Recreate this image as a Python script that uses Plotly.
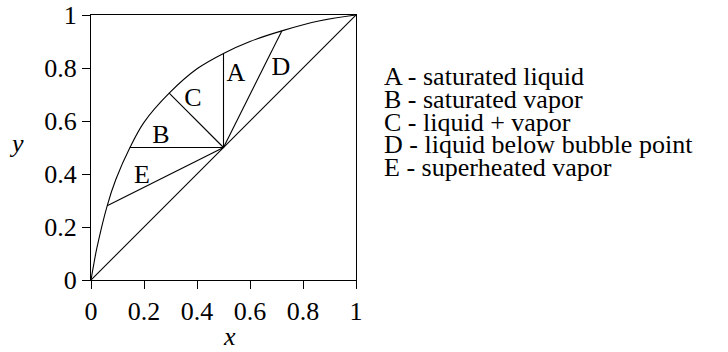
import plotly.graph_objects as go

# Equilibrium curve (x, y)
eq_x = [0.0, 0.01, 0.022, 0.061, 0.094, 0.147, 0.2, 0.295, 0.4, 0.5, 0.6, 0.72, 0.864, 1.0]
eq_y = [0.0, 0.057, 0.12, 0.28, 0.38, 0.5, 0.595, 0.705, 0.797, 0.855, 0.9, 0.94, 0.978, 1.0]

# Feed point and the q-line end points on the equilibrium curve
feed = (0.5, 0.5)
q_names = ["A", "B", "C", "D", "E"]
q_end_x = [0.5, 0.147, 0.295, 0.72, 0.061]
q_end_y = [0.855, 0.5, 0.705, 0.94, 0.28]

# Letter label positions inside the diagram
lab_x = [0.547, 0.264, 0.385, 0.717, 0.192]
lab_y = [0.774, 0.540, 0.683, 0.800, 0.392]

legend_lines = [
    "A - saturated liquid",
    "B - saturated vapor",
    "C - liquid + vapor",
    "D - liquid below bubble point",
    "E - superheated vapor",
]

tick_vals = [0, 0.2, 0.4, 0.6, 0.8, 1]
tick_text = ["0", "0.2", "0.4", "0.6", "0.8", "1"]

FONT = "Liberation Serif, Times New Roman, serif"
line = dict(color="black", width=1.1)

fig = go.Figure()
fig.add_trace(go.Scatter(x=eq_x, y=eq_y, mode="lines",
                         line=dict(color="black", width=1.1, shape="spline", smoothing=1.0),
                         cliponaxis=False, hoverinfo="skip"))
fig.add_trace(go.Scatter(x=[0, 1], y=[0, 1], mode="lines", line=line,
                         cliponaxis=False, hoverinfo="skip"))
for ex, ey in zip(q_end_x, q_end_y):
    fig.add_trace(go.Scatter(x=[feed[0], ex], y=[feed[1], ey], mode="lines",
                             line=line, cliponaxis=False, hoverinfo="skip"))

fig.add_trace(go.Scatter(x=lab_x, y=lab_y, mode="text", text=q_names,
                         textfont=dict(family=FONT, size=26, color="black"),
                         hoverinfo="skip"))

axis = dict(range=[0, 1], tickvals=tick_vals, ticktext=tick_text,
            ticks="outside", ticklen=8, tickwidth=1, tickcolor="black",
            showline=True, linecolor="black", linewidth=1, mirror=True,
            showgrid=False, zeroline=False, automargin=False,
            tickfont=dict(family=FONT, size=26, color="black"))

PLOT_L, PLOT_T, PLOT_W, PLOT_H = 91, 15, 265, 265

fig.update_layout(
    template="none",
    width=728, height=352,
    margin=dict(l=PLOT_L, r=728 - PLOT_L - PLOT_W, t=PLOT_T, b=352 - PLOT_T - PLOT_H, pad=0),
    plot_bgcolor="white", paper_bgcolor="white",
    font=dict(family=FONT, size=26, color="black"),
    showlegend=False,
    xaxis=axis, yaxis=axis,
)


def px_to_paper(px, py):
    return (px - PLOT_L) / PLOT_W, (PLOT_T + PLOT_H - py) / PLOT_H


annotations = []
ax_x, ax_y = px_to_paper(229, 336)
annotations.append(dict(text="<i>x</i>", x=ax_x, y=ax_y, xref="paper", yref="paper",
                        xanchor="center", yanchor="middle", showarrow=False,
                        font=dict(family=FONT, size=26, color="black")))
ay_x, ay_y = px_to_paper(16, 143)
annotations.append(dict(text="<i>y</i>", x=ay_x, y=ay_y, xref="paper", yref="paper",
                        xanchor="center", yanchor="middle", showarrow=False,
                        font=dict(family=FONT, size=26, color="black")))

# Legend text lines, one annotation each for tight line spacing
legend_first_px = 77
legend_step_px = 22.5
for i, txt in enumerate(legend_lines):
    lx, ly = px_to_paper(382, legend_first_px + i * legend_step_px)
    annotations.append(dict(text=txt, x=lx, y=ly, xref="paper", yref="paper",
                            xanchor="left", yanchor="middle", showarrow=False,
                            font=dict(family=FONT, size=26, color="black")))
fig.update_layout(annotations=annotations)

fig.write_html("out.html")
